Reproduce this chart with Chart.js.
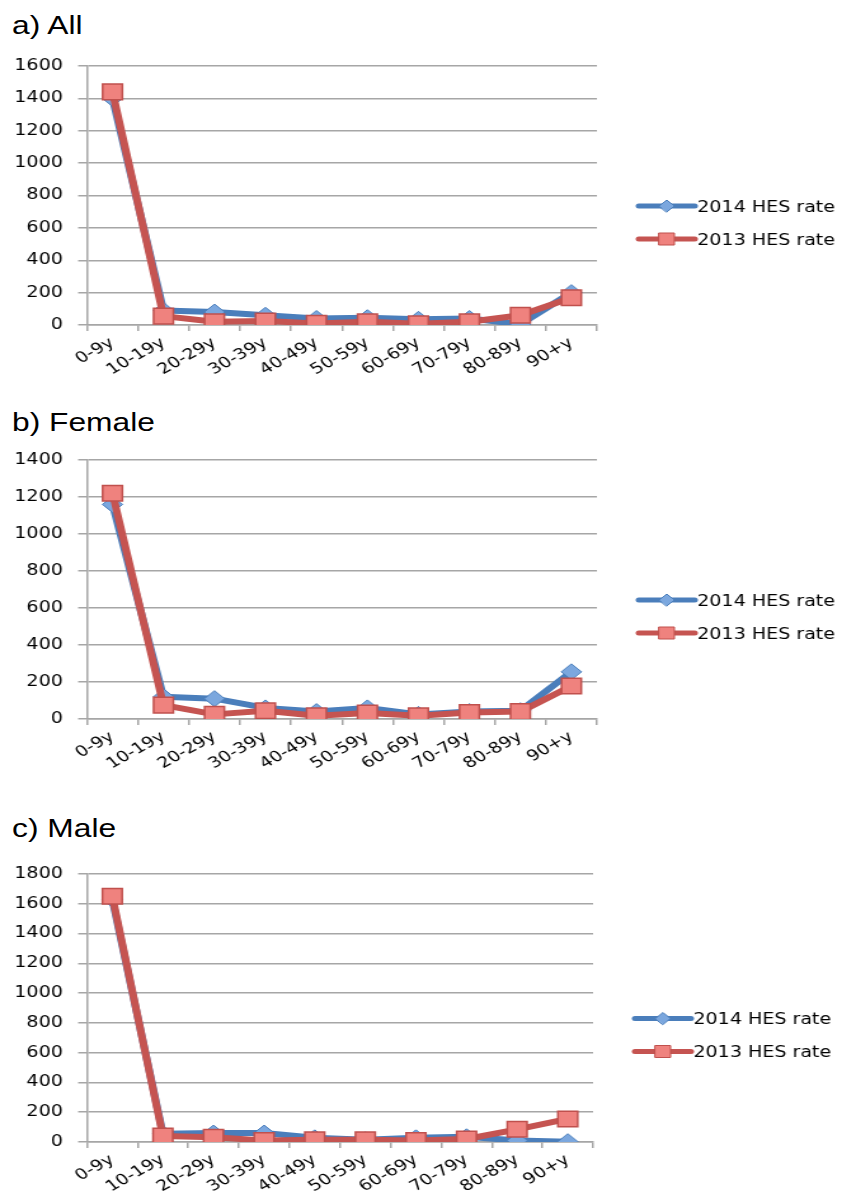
<!DOCTYPE html>
<html>
<head>
<meta charset="utf-8">
<script src="https://cdn.jsdelivr.net/npm/chart.js@4/dist/chart.umd.min.js"></script>
<style>
    body { margin: 0; background: #fff; width: 861px; height: 1196px; overflow: hidden; position: relative; }
    .titulo { position: absolute; left: 12px; font-family: "Liberation Sans", Arial, sans-serif; font-size: 25px; line-height: 25px; color: #000; transform: scaleX(1.27); transform-origin: 0 0; white-space: nowrap; }
    .painel { position: absolute; left: 0; transform: scaleX(1.27); transform-origin: 0 0; }
</style>
</head>
<body>

<div class="titulo" style="top:13px">a) All</div>
<div class="painel" style="top:45px"><canvas id="graficoAll" width="678" height="340"></canvas></div>

<div class="titulo" style="top:410px">b) Female</div>
<div class="painel" style="top:439px"><canvas id="graficoFemale" width="678" height="340"></canvas></div>

<div class="titulo" style="top:816px">c) Male</div>
<div class="painel" style="top:853px"><canvas id="graficoMale" width="678" height="349"></canvas></div>

<script>
//Faixas etárias (eixo x)
const faixas = ['0-9y', '10-19y', '20-29y', '30-39y', '40-49y', '50-59y', '60-69y', '70-79y', '80-89y', '90+y'];

//Nomes das séries
const rotulo2014 = '2014 HES rate';
const rotulo2013 = '2013 HES rate';

//a) All
const all2014 = [1400, 90, 80, 60, 40, 45, 35, 40, 5, 200];
const all2013 = [1440, 55, 20, 25, 10, 20, 8, 20, 60, 168];

//b) Female
const female2014 = [1160, 120, 110, 60, 40, 60, 25, 40, 45, 255];
const female2013 = [1220, 75, 25, 45, 18, 32, 18, 35, 40, 178];

//c) Male
const male2014 = [1630, 55, 60, 60, 28, 15, 28, 35, 10, 2];
const male2013 = [1650, 40, 32, 10, 15, 15, 10, 20, 85, 155];

//Máximo do eixo y de cada gráfico (passo de 200)
const maximoAll = 1600;
const maximoFemale = 1400;
const maximoMale = 1800;
const passoY = 200;

const corGrade = '#a6a6a6';
const fonteEixo = { family: 'DejaVu Sans', size: 15 };

//Legenda lateral: linha + marcador + texto, como no original
const legendaLateral = {
    id: 'legendaLateral',
    afterDraw(chart) {
        const ctx = chart.ctx;
        const area = chart.chartArea;
        const centro = (area.top + area.bottom) / 2 + 27;
        chart.data.datasets.forEach((ds, i) => {
            const y = centro + (i - 0.5) * 33;
            const x0 = area.right + 33;
            const x1 = x0 + 44;
            const xm = (x0 + x1) / 2;
            ctx.save();
            ctx.strokeStyle = ds.borderColor;
            ctx.lineWidth = 5;
            ctx.lineCap = 'round';
            ctx.beginPath();
            ctx.moveTo(x0, y);
            ctx.lineTo(x1, y);
            ctx.stroke();

            ctx.fillStyle = ds.pointBackgroundColor;
            ctx.strokeStyle = ds.pointBorderColor;
            ctx.lineWidth = 1;
            ctx.beginPath();
            if (ds.pointStyle === 'rectRot') {
                ctx.moveTo(xm - 6, y);
                ctx.lineTo(xm, y - 6);
                ctx.lineTo(xm + 6, y);
                ctx.lineTo(xm, y + 6);
                ctx.closePath();
            } else {
                ctx.rect(xm - 6, y - 6, 12, 12);
            }
            ctx.fill();
            ctx.stroke();

            ctx.fillStyle = '#000';
            ctx.font = '15px "DejaVu Sans"';
            ctx.textBaseline = 'middle';
            ctx.textAlign = 'left';
            ctx.fillText(ds.label, x1 + 2, y + 2);
            ctx.restore();
        });
    }
};

//Cria um gráfico de linhas com as duas séries
function criarGrafico(idCanvas, dados2014, dados2013, maximo, direita) {
    const elemento = document.getElementById(idCanvas);
    return new Chart(elemento, {
        type: 'line',
        data: {
            labels: faixas,
            datasets: [{
                label: rotulo2014,
                data: dados2014,
                order: 1,
                borderColor: '#4a7ebb',
                borderWidth: 6,
                borderJoinStyle: 'round',
                pointStyle: 'rectRot',
                pointRadius: 8,
                pointBackgroundColor: '#7ba7de',
                pointBorderColor: '#4a7ebb',
                pointBorderWidth: 1,
                tension: 0,
                fill: false
            }, {
                label: rotulo2013,
                data: dados2013,
                order: 0,
                borderColor: '#c55451',
                borderWidth: 6,
                borderJoinStyle: 'round',
                pointStyle: 'rect',
                pointRadius: 11,
                pointBackgroundColor: '#ef827e',
                pointBorderColor: '#c0504d',
                pointBorderWidth: 1.5,
                tension: 0,
                fill: false
            }]
        },
        options: {
            responsive: false,
            animation: false,
            layout: { padding: { top: 16, right: direita, left: 0, bottom: 0 } },
            plugins: {
                legend: { display: false },
                tooltip: { enabled: false }
            },
            scales: {
                x: {
                    offset: true,
                    grid: { drawOnChartArea: false, drawTicks: true, tickLength: 6, color: corGrade, lineWidth: 1.5, offset: true },
                    border: { display: true, color: corGrade, width: 1.5 },
                    ticks: { color: '#000', font: fonteEixo, minRotation: 35, maxRotation: 35, autoSkip: false, padding: 3 },
                    afterFit: (escala) => { escala.height = 60; }
                },
                y: {
                    min: 0,
                    max: maximo,
                    ticks: { stepSize: passoY, color: '#000', font: fonteEixo, padding: 12, callback: (valor) => String(valor) },
                    grid: { color: corGrade, lineWidth: 1.5, tickLength: 7 },
                    border: { display: true, color: corGrade, width: 1.5 },
                    afterFit: (escala) => { escala.width = 68.5; }
                }
            }
        },
        plugins: [legendaLateral]
    });
}

const graficoAll = criarGrafico('graficoAll', all2014, all2013, maximoAll, 208);
const graficoFemale = criarGrafico('graficoFemale', female2014, female2013, maximoFemale, 208);
const graficoMale = criarGrafico('graficoMale', male2014, male2013, maximoMale, 211);
</script>
</body>
</html>
